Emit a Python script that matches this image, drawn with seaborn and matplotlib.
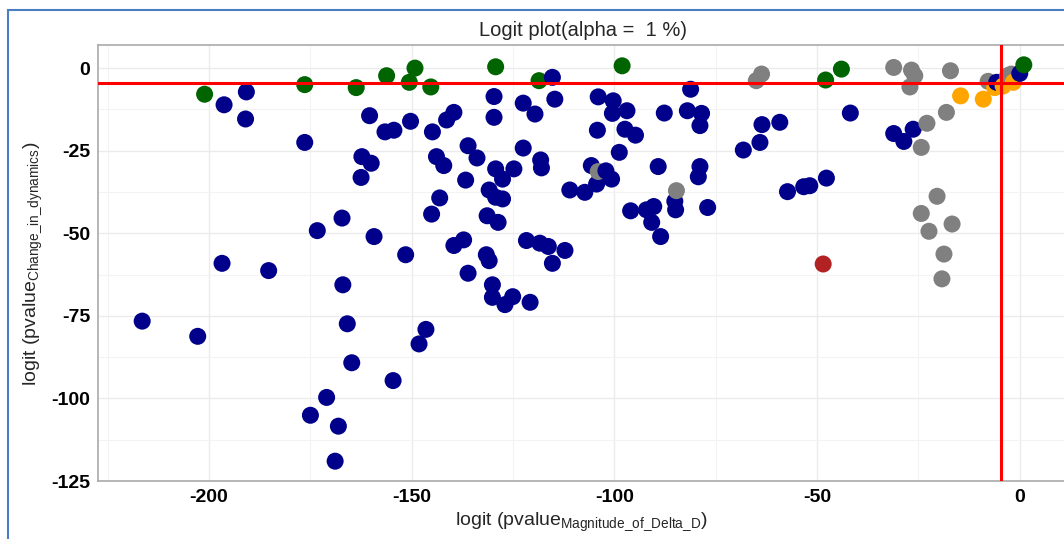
import numpy as np
import pandas as pd
import matplotlib
matplotlib.use('Agg')
import matplotlib.pyplot as plt
from matplotlib.patches import Rectangle
from matplotlib.ticker import AutoMinorLocator
import seaborn as sns

# values (logit of the two p-values)
navy_x = [-190.8, -196.3, -191.0, -176.4, -160.4, -162.3, -160.0, -162.5, -167.2, -173.3,
          -159.3, -196.8, -185.3, -167.0, -216.5, -202.8, -165.9, -164.8, -171.0, -175.0,
          -168.1, -168.9, -130.1, -127.0, -125.1, -120.8, -146.5, -148.2, -154.6, -130.1,
          -156.6, -154.4, -150.3, -144.9, -141.4, -139.6, -129.7, -129.7, -122.5, -119.6,
          -115.3, -114.7, -104.0, -104.2, -143.9, -142.1, -136.1, -133.9, -136.7, -129.3,
          -127.6, -124.8, -122.5, -118.2, -118.0, -130.9, -129.3, -127.6, -143.1, -145.1,
          -131.4, -128.7, -151.5, -139.6, -137.2, -136.1, -131.6, -130.9, -121.7, -118.4,
          -116.3, -115.3, -112.2, -111.0, -107.3, -105.7, -104.4, -102.1, -100.3, -100.5,
          -96.9, -97.4, -94.8, -98.8, -100.7, -87.7, -81.2, -82.0, -78.5, -78.9,
          -89.2, -78.9, -79.3, -96.0, -92.1, -90.3, -90.8, -88.6, -85.1, -84.9,
          -77.0, -68.2, -64.1, -63.6, -59.2, -57.3, -53.3, -51.8, -47.7, -41.8,
          -31.1, -28.6, -26.3, -5.7, 0.0]
navy_y = [-7.2, -11.1, -15.4, -22.5, -14.4, -26.8, -28.8, -33.1, -45.4, -49.2,
          -51.0, -59.1, -61.3, -65.6, -76.6, -81.2, -77.4, -89.2, -99.7, -105.1,
          -108.4, -119.0, -69.4, -71.6, -69.2, -70.9, -79.1, -83.5, -94.6, -65.6,
          -19.3, -18.8, -16.1, -19.3, -15.7, -13.4, -8.6, -14.9, -10.6, -13.9,
          -2.8, -9.4, -8.7, -18.8, -26.8, -29.5, -23.5, -27.2, -33.9, -30.5,
          -33.6, -30.5, -24.2, -27.8, -30.2, -36.9, -39.1, -39.6, -39.3, -44.2,
          -44.7, -46.7, -56.5, -53.7, -52.0, -62.1, -56.5, -58.3, -52.2, -53.0,
          -54.0, -59.1, -55.2, -36.9, -37.6, -29.5, -35.1, -31.1, -9.9, -13.7,
          -12.9, -18.5, -20.3, -25.5, -33.6, -13.6, -6.4, -12.9, -13.7, -17.4,
          -29.8, -29.8, -32.9, -43.2, -42.9, -41.9, -46.7, -51.0, -40.3, -42.9,
          -42.2, -24.8, -22.5, -17.1, -16.4, -37.4, -35.9, -35.6, -33.3, -13.6,
          -19.8, -22.2, -18.5, -4.3, -1.6]

gray_x = [-65.0, -63.7, -31.1, -26.7, -25.9, -27.1, -17.1, -18.1, -22.9, -24.3,
          -20.4, -24.3, -22.4, -16.7, -18.7, -19.2, -7.8, -3.0, -2.1, -104.0, -84.7]
gray_y = [-3.8, -1.8, 0.2, -0.6, -2.3, -5.7, -0.8, -13.4, -16.7, -24.0,
          -38.8, -44.0, -49.4, -47.2, -56.3, -63.8, -4.0, -2.3, -1.8, -31.3, -37.1]

orange_x = [-14.6, -9.0, -6.2, -4.1, -1.6]
orange_y = [-8.4, -9.4, -5.9, -5.4, -4.3]

green_x = [-201.1, -176.4, -163.7, -156.2, -149.2, -150.6, -145.3, -129.3, -118.6,
           -98.1, -47.9, -44.0, 1.0]
green_y = [-7.9, -5.0, -5.9, -2.3, 0.0, -4.3, -5.7, 0.4, -3.8,
           0.7, -3.6, -0.3, 1.0]

red_x = [-48.5]
red_y = [-59.3]

alpha = 0.01
cutoff = np.log(alpha / (1 - alpha))

groups = ['navy', 'gray', 'orange', 'green', 'red']
colors = {'navy': '#00008B', 'gray': '#808080', 'orange': '#FFA500',
          'green': '#006400', 'red': '#B22222'}

df = pd.concat([
    pd.DataFrame({'x': orange_x, 'y': orange_y, 'group': 'orange'}),
    pd.DataFrame({'x': navy_x, 'y': navy_y, 'group': 'navy'}),
    pd.DataFrame({'x': gray_x, 'y': gray_y, 'group': 'gray'}),
    pd.DataFrame({'x': green_x, 'y': green_y, 'group': 'green'}),
    pd.DataFrame({'x': red_x, 'y': red_y, 'group': 'red'}),
], ignore_index=True)
# draw left to right, so the overlaps near the origin stack like the original
df = df.sort_values('x', kind='stable').reset_index(drop=True)

sns.set_theme(style='white')
plt.rcParams['font.family'] = ['Liberation Sans', 'DejaVu Sans']
plt.rcParams['mathtext.fontset'] = 'custom'
plt.rcParams['mathtext.rm'] = 'Liberation Sans'
plt.rcParams['axes.unicode_minus'] = False

W, H = 1064, 539
fig = plt.figure(figsize=(W / 100, H / 100), dpi=100)
ax = fig.add_axes([98 / W, 1 - 481 / H, 970 / W, 436 / H])

sns.scatterplot(data=df, x='x', y='y', hue='group', hue_order=groups,
                palette=colors, s=150, linewidth=0, legend=False, ax=ax, zorder=3)

ax.axhline(cutoff, color='red', lw=2.2, zorder=4)
ax.axvline(cutoff, color='red', lw=2.2, zorder=4)

ax.set_xlim(-227.4, 11.9)
ax.set_ylim(-125, 7.0)
ax.set_xticks([-200, -150, -100, -50, 0])
ax.set_yticks([0, -25, -50, -75, -100, -125])
ax.xaxis.set_minor_locator(AutoMinorLocator(2))
ax.yaxis.set_minor_locator(AutoMinorLocator(2))
ax.grid(which='major', color='#EBEBEB', lw=1.0)
ax.grid(which='minor', color='#F3F3F3', lw=0.8)
ax.set_axisbelow(True)

for side in ['top', 'left', 'bottom', 'right']:
    ax.spines[side].set_color('#AAAAAA')
    ax.spines[side].set_linewidth(1.2)

ax.tick_params(which='major', length=3.5, width=1, color='#999999', pad=2,
               labelsize=14, labelcolor='black')
ax.tick_params(which='minor', length=0)
for lab in ax.get_xticklabels() + ax.get_yticklabels():
    lab.set_fontweight('bold')

ax.set_xlabel('')
ax.set_ylabel('')

fig.text(583 / W, 1 - 30 / H, 'Logit plot(alpha =  1 %)', ha='center', va='center',
         fontsize=14.5)
fig.text(581 / W, 1 - 522 / H,
         r'logit (pvalue$_{\mathrm{Magnitude\_of\_Delta\_D}}$)',
         ha='center', va='center', fontsize=14)
fig.text(33 / W, 1 - 264 / H,
         r'logit (pvalue$_{\mathrm{Change\_in\_dynamics}}$)',
         ha='center', va='center', rotation=90, fontsize=14)

# screenshot frame around the figure
fig.patches.append(Rectangle((8 / W, -0.1), 1.2, 1 - 10 / H + 0.1,
                             transform=fig.transFigure, fill=False,
                             edgecolor='#4A7EC2', lw=1.5))

plt.savefig('out.png', dpi=100)
